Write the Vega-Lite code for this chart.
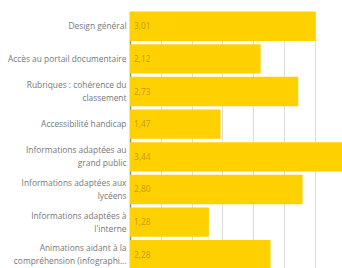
{
  "$schema": "https://vega.github.io/schema/vega-lite/v6.json",
  "autosize": {"type": "none"},
  "padding": {"left": 130, "top": 11.5, "right": 0, "bottom": 0},
  "width": 212,
  "height": 258,
  "config": {
    "view": {"stroke": null},
    "font": "Open Sans",
    "locale": {"number": {"decimal": ",", "thousands": " ", "grouping": [3], "currency": ["", " €"]}}
  },
  "data": {
    "values": [
      {"critere": "Design général", "note": 3.01},
      {"critere": "Accès au portail documentaire", "note": 2.12},
      {"critere": "Rubriques : cohérence du|classement", "note": 2.73},
      {"critere": "Accessibilité handicap", "note": 1.47},
      {"critere": "Informations adaptées au|grand public", "note": 3.44},
      {"critere": "Informations adaptées aux|lycéens", "note": 2.80},
      {"critere": "Informations adaptées à|l'interne", "note": 1.28},
      {"critere": "Animations aidant à la|compréhension (infographi...", "note": 2.28}
    ]
  },
  "encoding": {
    "y": {
      "field": "critere", "type": "nominal", "sort": null,
      "scale": {"paddingInner": 0.1, "paddingOuter": 0},
      "axis": {
        "title": null, "ticks": false, "domain": true, "domainColor": "#8f8f8f", "domainWidth": 1.5,
        "labelExpr": "split(datum.label, '|')", "labelFontSize": 8.4, "labelColor": "#777777",
        "labelLineHeight": 12.8, "labelPadding": 4, "labelLimit": 130,
        "labelOffset": {"condition": {"test": "indexof(datum.label, '|') >= 0", "value": -6.4}, "value": 0}
      }
    }
  },
  "layer": [
    {
      "mark": {"type": "bar", "color": "#ffd100"},
      "encoding": {
        "x": {
          "field": "note", "type": "quantitative",
          "scale": {"domain": [0, 3.44], "nice": false},
          "axis": {"title": null, "labels": false, "ticks": false, "domain": false, "values": [0.5, 1, 1.5, 2, 2.5, 3], "gridColor": "#dddddd", "gridWidth": 1}
        }
      }
    },
    {
      "mark": {"type": "text", "align": "left", "dx": 4, "fontSize": 8.4, "color": "#c49c00"},
      "encoding": {
        "x": {"datum": 0, "type": "quantitative"},
        "text": {"field": "note", "type": "quantitative", "format": ".2f"}
      }
    }
  ]
}
